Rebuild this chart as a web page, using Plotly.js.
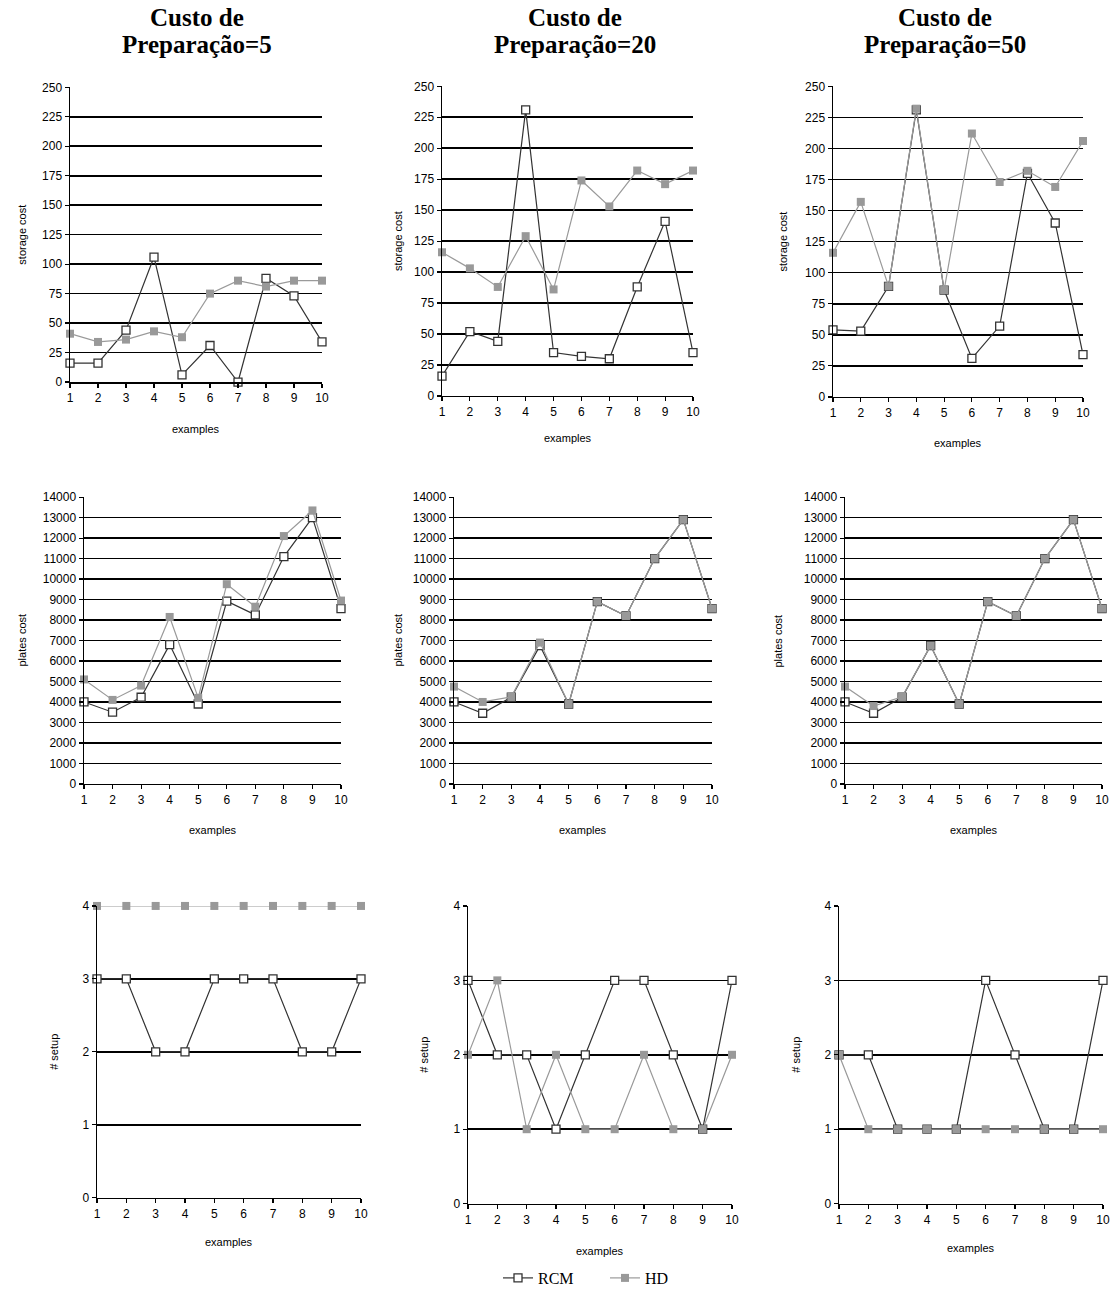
<!DOCTYPE html>
<html>
<head>
<meta charset="utf-8">
<script src="https://cdn.plot.ly/plotly-3.0.1.min.js"></script>
<style>html,body{margin:0;padding:0;background:#fff;}#chart{width:1110px;height:1295px;}</style>
</head>
<body>
<div id="chart"></div>
<script>
// ---- data ----
const examples = [1, 2, 3, 4, 5, 6, 7, 8, 9, 10];
const setupCosts = ["Custo de<br>Preparação=5", "Custo de<br>Preparação=20", "Custo de<br>Preparação=50"];
const seriesNames = ["RCM", "HD"];

// storage cost
const storageRCM5  = [16, 16, 44, 106, 6, 31, 0, 88, 73, 34];
const storageHD5   = [41, 34, 36, 43, 38, 75, 86, 81, 86, 86];
const storageRCM20 = [16, 52, 44, 231, 35, 32, 30, 88, 141, 35];
const storageHD20  = [116, 103, 88, 129, 86, 174, 153, 182, 171, 182];
const storageRCM50 = [54, 53, 89, 231, 86, 31, 57, 180, 140, 34];
const storageHD50  = [116, 157, 89, 232, 86, 212, 173, 182, 169, 206];

// plates cost
const platesRCM5  = [4000, 3500, 4230, 6800, 3900, 8920, 8250, 11100, 13000, 8560];
const platesHD5   = [5100, 4100, 4800, 8150, 4200, 9750, 8650, 12100, 13350, 8950];
const platesRCM20 = [4000, 3450, 4230, 6750, 3900, 8900, 8200, 11000, 12900, 8560];
const platesHD20  = [4750, 4000, 4250, 6900, 3900, 8900, 8200, 11000, 12900, 8560];
const platesRCM50 = [4000, 3450, 4230, 6750, 3900, 8900, 8200, 11000, 12900, 8560];
const platesHD50  = [4750, 3800, 4250, 6750, 3900, 8900, 8200, 11000, 12900, 8560];

// number of setups
const setupRCM5  = [3, 3, 2, 2, 3, 3, 3, 2, 2, 3];
const setupHD5   = [4, 4, 4, 4, 4, 4, 4, 4, 4, 4];
const setupRCM20 = [3, 2, 2, 1, 2, 3, 3, 2, 1, 3];
const setupHD20  = [2, 3, 1, 2, 1, 1, 2, 1, 1, 2];
const setupRCM50 = [2, 2, 1, 1, 1, 3, 2, 1, 1, 3];
const setupHD50  = [2, 1, 1, 1, 1, 1, 1, 1, 1, 1];

const yTitles = ["storage cost", "plates cost", "# setup"];
const xTitle = "examples";
const yMax = [250, 14000, 4];
const yStep = [25, 1000, 1];

const panels = [
  [[storageRCM5, storageHD5], [storageRCM20, storageHD20], [storageRCM50, storageHD50]],
  [[platesRCM5, platesHD5], [platesRCM20, platesHD20], [platesRCM50, platesHD50]],
  [[setupRCM5, setupHD5], [setupRCM20, setupHD20], [setupRCM50, setupHD50]]
];

// ---- layout geometry (pixels) ----
const W = 1110, H = 1295;
const xPix = [
  [[70, 322], [442, 693], [833, 1083]],
  [[84, 341], [454, 712], [845, 1102]],
  [[97, 361], [468, 732], [839, 1103]]
];
const yPix = [
  [[88, 385], [87, 399], [87, 400]],
  [[501, 790], [501, 790], [501, 790]],
  [[913, 1207], [913, 1213], [913, 1213]]
];
const yTitleX = [[22, 398, 783], [22, 398, 778], [54, 424, 796]];
const xTitleY = [[432, 441, 446], [836, 836, 836], [1252, 1261, 1258]];
const titleCenters = [197, 575, 945];

const px = v => v / W;
const py = v => 1 - v / H;

const tickFont = {family: "Liberation Sans, Arial, sans-serif", size: 12, color: "#000"};
const labelFont = {family: "Liberation Sans, Arial, sans-serif", size: 11, color: "#000"};

const traces = [];
const layout = {
  width: W, height: H,
  margin: {l: 0, r: 0, t: 0, b: 0},
  paper_bgcolor: "#fff", plot_bgcolor: "#fff",
  showlegend: true,
  legend: {
    orientation: "h", x: px(498), y: py(1271), xanchor: "left", yanchor: "top",
    font: {family: "Liberation Serif, Times New Roman, serif", size: 16, color: "#000"},
    entrywidth: 62, entrywidthmode: "pixels", bgcolor: "rgba(0,0,0,0)"
  },
  annotations: [],
  shapes: []
};

let k = 0;
for (let r = 0; r < 3; r++) {
  for (let c = 0; c < 3; c++) {
    k++;
    const xa = "xaxis" + (k === 1 ? "" : k);
    const ya = "yaxis" + (k === 1 ? "" : k);
    const xr = "x" + (k === 1 ? "" : k);
    const yr = "y" + (k === 1 ? "" : k);
    const xd = xPix[r][c], yd = yPix[r][c];
    layout[xa] = {
      domain: [px(xd[0]), px(xd[1])], anchor: yr,
      range: [1, 10], tickvals: examples, ticktext: examples.map(String),
      showgrid: false, zeroline: false,
      showline: true, linecolor: "#000", linewidth: 1.5,
      ticks: "outside", ticklen: 4, tickwidth: 1.2, tickcolor: "#000",
      tickfont: tickFont, fixedrange: true
    };
    layout[ya] = {
      domain: [py(yd[1]), py(yd[0])], anchor: xr,
      range: [0, yMax[r]], dtick: yStep[r], tick0: 0, tickformat: "d",
      showgrid: true, gridcolor: "#000", gridwidth: 1.6,
      zeroline: false, showline: true, linecolor: "#000", linewidth: 1.5,
      ticks: "outside", ticklen: 4, tickwidth: 1.2, tickcolor: "#000",
      tickfont: tickFont, fixedrange: true
    };
    const [rcm, hd] = panels[r][c];
    traces.push({
      type: "scatter", mode: "lines+markers", x: examples, y: rcm,
      xaxis: xr, yaxis: yr, name: seriesNames[0], showlegend: k === 1,
      cliponaxis: false,
      line: {color: "#333", width: 1.2},
      marker: {symbol: "square", size: 8, color: "#fff", line: {color: "#333", width: 1.3}}
    });
    traces.push({
      type: "scatter", mode: "lines+markers", x: examples, y: hd,
      xaxis: xr, yaxis: yr, name: seriesNames[1], showlegend: k === 1,
      cliponaxis: false,
      line: {color: "#9a9a9a", width: 1.2},
      marker: {symbol: "square", size: 8, color: "#999", line: {color: "#999", width: 0}}
    });
    layout.annotations.push({
      xref: "paper", yref: "paper", x: px(yTitleX[r][c]), y: py((yd[0] + yd[1]) / 2),
      text: yTitles[r], textangle: -90, showarrow: false, font: labelFont,
      xanchor: "center", yanchor: "middle"
    });
    layout.annotations.push({
      xref: "paper", yref: "paper", x: px((xd[0] + xd[1]) / 2), y: py(xTitleY[r][c]),
      text: xTitle, showarrow: false, font: labelFont,
      xanchor: "center", yanchor: "middle"
    });
  }
}

// column titles
const titleFont = {family: "Liberation Serif, Times New Roman, serif", size: 25, color: "#000"};
for (let c = 0; c < 3; c++) {
  const parts = setupCosts[c].split("<br>");
  layout.annotations.push({
    xref: "paper", yref: "paper", x: px(titleCenters[c]), y: py(18),
    text: "<b>" + parts[0] + "</b>", showarrow: false, font: titleFont,
    xanchor: "center", yanchor: "middle"
  });
  layout.annotations.push({
    xref: "paper", yref: "paper", x: px(titleCenters[c]), y: py(45),
    text: "<b>" + parts[1] + "</b>", showarrow: false, font: titleFont,
    xanchor: "center", yanchor: "middle"
  });
}

Plotly.newPlot("chart", traces, layout, {staticPlot: true, displayModeBar: false});
</script>
</body>
</html>
